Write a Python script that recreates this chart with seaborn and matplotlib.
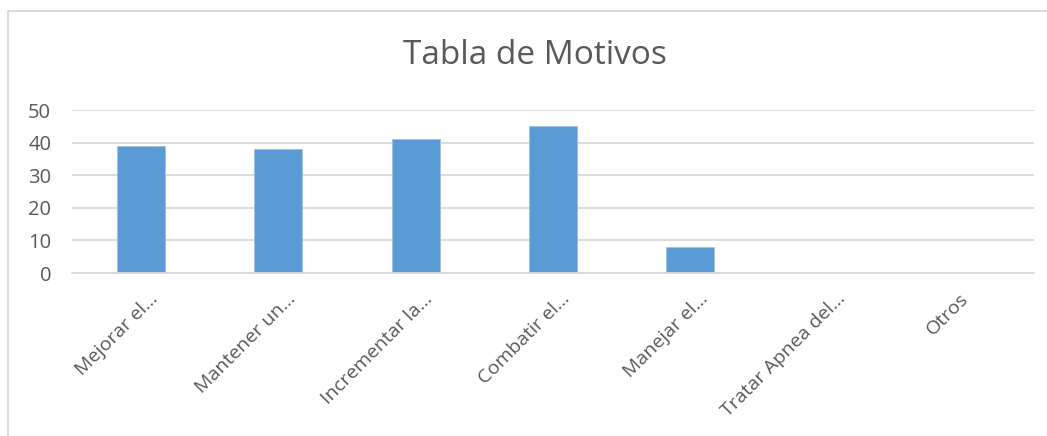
import matplotlib
matplotlib.use("Agg")
import matplotlib.pyplot as plt
import matplotlib.transforms as mtransforms
import seaborn as sns
import pandas as pd
from matplotlib.lines import Line2D

# data
categorias = ["Mejorar el...", "Mantener un...", "Incrementar la...", "Combatir el...",
              "Manejar el...", "Tratar Apnea del...", "Otros"]
valores = [39, 38, 41, 45, 8, 0, 0]
y_ticks = [0, 10, 20, 30, 40, 50]

df = pd.DataFrame({"Motivo": categorias, "Cantidad": valores})

sns.set_theme(style="white")
plt.rcParams["font.family"] = ["Open Sans", "DejaVu Sans"]

gris_texto = "#595959"
gris_linea = "#d9d9d9"
azul = "#5b9bd5"

fig = plt.figure(figsize=(10.47, 4.36), dpi=100)
ax = fig.add_axes([72 / 1047, 163 / 436, 962 / 1047, 163 / 436])

sns.barplot(data=df, x="Motivo", y="Cantidad", color=azul, width=0.35,
            saturation=1, ax=ax, edgecolor="#9dc3e6", linewidth=0.6)

ax.set_ylim(0, 50)
ax.set_yticks(y_ticks)
ax.yaxis.grid(True, color=gris_linea, linewidth=1.3)
ax.set_axisbelow(True)
for s in ["top", "right", "left"]:
    ax.spines[s].set_visible(False)
ax.spines["bottom"].set_color(gris_linea)
ax.spines["bottom"].set_linewidth(1.3)
ax.tick_params(axis="y", length=0, colors=gris_texto, labelsize=14.5, pad=15)
ax.tick_params(axis="x", length=0, colors=gris_texto, labelsize=14, pad=12)
ax.set_xlabel("")
ax.set_ylabel("")

# rotated category labels, nudged right like the spreadsheet layout
# (the short last label sits closer to its category in the original)
for lbl in ax.get_xticklabels():
    dx = -6 if lbl.get_text() == "Otros" else 8
    desplaza = mtransforms.ScaledTranslation(dx / 100, 0, fig.dpi_scale_trans)
    lbl.set_rotation(45)
    lbl.set_ha("right")
    lbl.set_rotation_mode("anchor")
    lbl.set_transform(lbl.get_transform() + desplaza)

fig.text(535 / 1047, 1 - 56 / 436, "Tabla de Motivos", ha="center", va="center",
         fontsize=24, color=gris_texto)

# chart frame: only top and left edges fall inside the picture
fig.add_artist(Line2D([8 / 1047, 1], [1 - 11 / 436, 1 - 11 / 436],
                      transform=fig.transFigure, color=gris_linea, linewidth=1.3))
fig.add_artist(Line2D([8 / 1047, 8 / 1047], [0, 1 - 11 / 436],
                      transform=fig.transFigure, color=gris_linea, linewidth=1.3))

fig.savefig("out.png", dpi=100)
